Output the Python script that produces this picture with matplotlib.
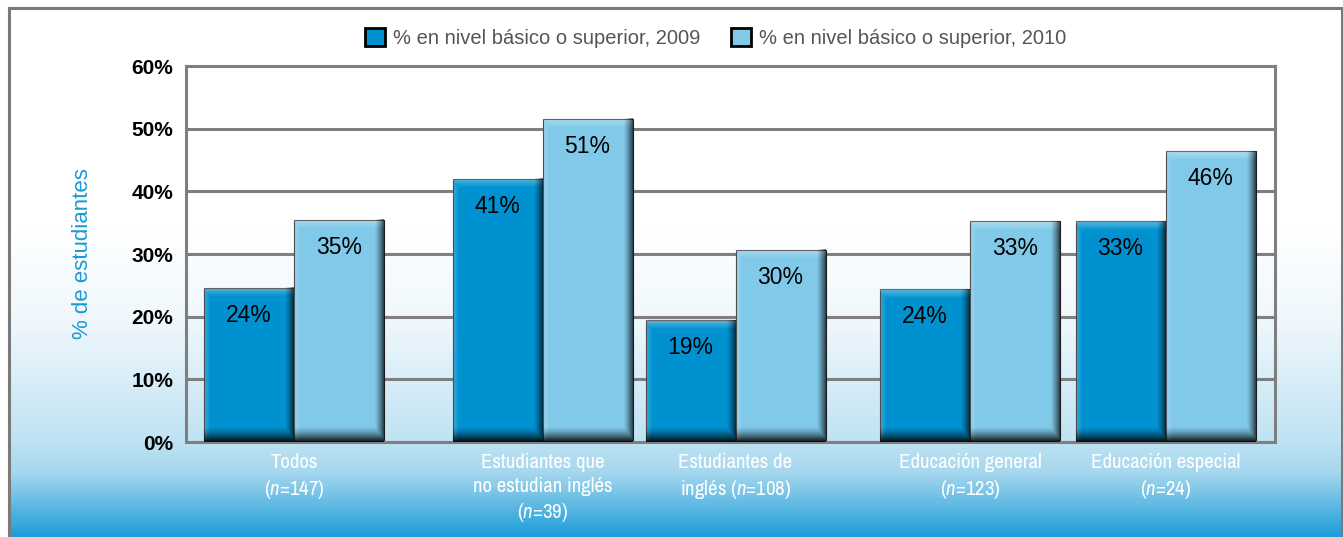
import numpy as np
import matplotlib
matplotlib.use("Agg")
import matplotlib.pyplot as plt
from matplotlib import font_manager
from matplotlib.patches import Patch, Rectangle
from matplotlib.colors import LinearSegmentedColormap

# === Data ===
categories = [
    "Todos\n($\\mathit{n}$=147)",
    "Estudiantes que\nno estudian inglés\n($\\mathit{n}$=39)",
    "Estudiantes de\ninglés ($\\mathit{n}$=108)",
    "Educación general\n($\\mathit{n}$=123)",
    "Educación especial\n($\\mathit{n}$=24)",
]
series_names = ["% en nivel básico o superior, 2009",
                "% en nivel básico o superior, 2010"]
# bar heights as drawn in the picture, and the printed labels
heights_2009 = [24.6, 42.0, 19.4, 24.4, 35.2]
heights_2010 = [35.5, 51.6, 30.7, 35.2, 46.4]
labels_2009 = ["24%", "41%", "19%", "24%", "33%"]
labels_2010 = ["35%", "51%", "30%", "33%", "46%"]
yticks = [0, 10, 20, 30, 40, 50, 60]

# === Layout / style ===
W, H = 1343, 537
group_pos = [108, 356.5, 549.5, 784, 979.5]   # axes-pixel units (groups are unevenly spaced)
bar_w = 90
c2009, c2010 = "#0092d0", "#80c9e8"

# look for a condensed face for the category labels
names = sorted({f.name for f in font_manager.fontManager.ttflist})
cond = [n for n in names if "Narrow" in n or "Condensed" in n]
narrow = cond[0] if cond else None
plt.rcParams["font.family"] = ["Liberation Sans", "DejaVu Sans"]
plt.rcParams["mathtext.fontset"] = "custom"
cat_font = narrow if narrow else "Liberation Sans"
plt.rcParams["mathtext.rm"] = cat_font
plt.rcParams["mathtext.it"] = cat_font + ":italic"
cat_size = 15 if narrow else 13.5

fig = plt.figure(figsize=(W / 100, H / 100), dpi=100)

# === background gradient inside the frame ===
bg = fig.add_axes([9 / W, 0, (W - 10) / W, (H - 8) / H], zorder=-10)
stops = [(0.0, "#ffffff"), (0.42, "#ffffff"), (0.60, "#eef7fc"),
         (0.82, "#bfe3f3"), (0.88, "#a6d7ee"), (1.0, "#1e9ed9")]
cmap = LinearSegmentedColormap.from_list("bg", stops)
bg.imshow(np.linspace(0, 1, 400)[:, None], cmap=cmap, aspect="auto",
          extent=(0, 1, 0, 1), origin="upper")
bg.set_axis_off()
fig.add_artist(Rectangle((9 / W, -0.05), (W - 10.5) / W, 1.05 - 8 / H,
                         transform=fig.transFigure, fill=False,
                         edgecolor="#7a7a7a", linewidth=2.2, clip_on=False))

# === main axes ===
ax_l, ax_b = 186 / W, (H - 442) / H
ax_w, ax_h = 1089 / W, 376 / H
ax = fig.add_axes([ax_l, ax_b, ax_w, ax_h])
ax.patch.set_alpha(0)
ax.set_xlim(0, 1089)
ax.set_ylim(0, 60)
px_y = ax_h * H / 60.0

for s in ax.spines.values():
    s.set_color("#7f7f7f")
    s.set_linewidth(2.2)
ax.set_yticks(yticks)
ax.set_yticklabels([f"{v}%" for v in yticks], fontsize=15, fontweight="bold")
ax.yaxis.grid(True, color="#7f7f7f", linewidth=2.2, zorder=0)
ax.set_axisbelow(True)
ax.tick_params(axis="both", length=0)
ax.tick_params(axis="y", pad=9)
ax.set_xticks(group_pos)
ax.set_xticklabels(categories, fontsize=cat_size, color="white",
                   family=cat_font, linespacing=1.32)
ax.tick_params(axis="x", pad=8)
ax.set_ylabel("% de estudiantes", fontsize=16, color="#1a9ad7", labelpad=28)


def shade(x0, h):
    wp = bar_w
    hp = max(int(round(h * px_y)), 2)
    yy, xx = np.mgrid[0:hp, 0:wp]
    d_bot = hp - 1 - yy
    d_right = wp - 1 - xx
    dark = np.maximum(np.clip(1 - d_bot / 15.0, 0, 1) ** 1.4 * 0.9,
                      np.clip(1 - d_right / 9.0, 0, 1) ** 1.3 * 0.65)
    light = np.maximum(np.clip(1 - yy / 9.0, 0, 1) * 0.35,
                       np.clip(1 - xx / 6.0, 0, 1) * 0.22) * (1 - dark)
    img_d = np.zeros((hp, wp, 4))
    img_d[..., 3] = dark
    img_l = np.ones((hp, wp, 4))
    img_l[..., 3] = light
    for img in (img_d, img_l):
        ax.imshow(img, extent=(x0, x0 + bar_w, 0, h), aspect="auto",
                  interpolation="bilinear", zorder=3)


for off, hts, lbls, col in [(-bar_w / 2, heights_2009, labels_2009, c2009),
                            (bar_w / 2, heights_2010, labels_2010, c2010)]:
    xs = [p + off for p in group_pos]
    ax.bar(xs, hts, width=bar_w, color=col, edgecolor="#1c1c1c",
           linewidth=0.8, zorder=2)
    for x, h, t in zip(xs, hts, lbls):
        shade(x - bar_w / 2, h)
        ax.text(x, h - 4.4, t, ha="center", va="center", fontsize=16.5,
                color="black", zorder=5)

ax.set_xlim(0, 1089)
ax.set_ylim(0, 60)

handles = [Patch(facecolor=c2009, edgecolor="black", linewidth=2),
           Patch(facecolor=c2010, edgecolor="black", linewidth=2)]
leg = fig.legend(handles, series_names, loc="center",
                 bbox_to_anchor=(0.533, 0.929), ncol=2, frameon=False,
                 fontsize=14.5, handlelength=1.0, handleheight=1.0,
                 handletextpad=0.4, columnspacing=1.5, labelcolor="#555555")

fig.savefig("out.png", dpi=100)
